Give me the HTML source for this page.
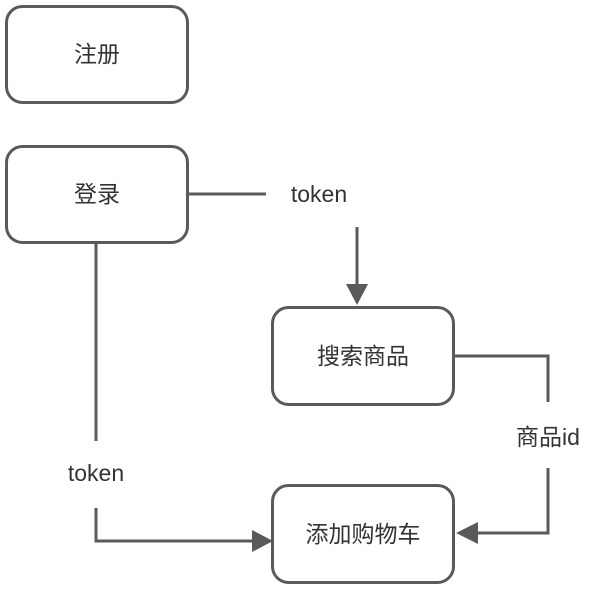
<!DOCTYPE html>
<html><head><meta charset="utf-8"><style>
body{margin:0;background:#fff}
svg text{font-family:"Liberation Sans","Noto Sans CJK SC",sans-serif;font-size:23px;fill:#333}
</style></head><body>
<svg width="609" height="588" viewBox="0 0 609 588" xmlns="http://www.w3.org/2000/svg">
<g fill="#fff" stroke="#5a5a5a" stroke-width="3">
<rect x="6.5" y="6.5" width="181" height="96" rx="16"/>
<rect x="6.5" y="146.5" width="181" height="96" rx="16"/>
<rect x="272.5" y="307.5" width="181" height="97" rx="16"/>
<rect x="272.5" y="485.5" width="181" height="97" rx="16"/>
</g>
<g fill="none" stroke="#5a5a5a" stroke-width="3">
<path d="M188 194H266"/>
<path d="M357 227V287"/>
<path d="M454 356H548V402"/>
<path d="M548 468V533H476"/>
<path d="M96 243V441"/>
<path d="M96 508V541H254"/>
</g>
<g fill="#5a5a5a">
<path d="M346 284H368L357 305Z"/>
<path d="M478 522V544L456 533Z"/>
<path d="M252 530V552L273 541Z"/>
</g>
<g text-anchor="middle">
<text x="97" y="62">注册</text>
<text x="97" y="202">登录</text>
<text x="319" y="202">token</text>
<text x="363" y="364">搜索商品</text>
<text x="548" y="445">商品id</text>
<text x="96" y="481">token</text>
<text x="363" y="542">添加购物车</text>
</g>
</svg>
</body></html>
